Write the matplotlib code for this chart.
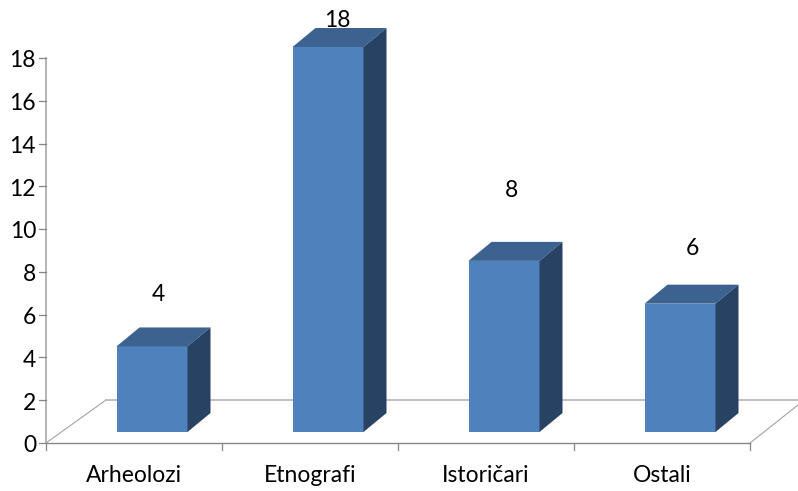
import matplotlib
matplotlib.use('Agg')
import matplotlib.pyplot as plt
from matplotlib.patches import Polygon

categories = ['Arheolozi', 'Etnografi', 'Istoričari', 'Ostali']
values = [4, 18, 8, 6]
y_ticks = [0, 2, 4, 6, 8, 10, 12, 14, 16, 18]

# where the value labels sit relative to the bar top, in pixels
label_dx = [6.5, 9.5, 7.5, 12.5]
label_dy = [53, 28, 72, 57]

W, H = 798, 491
# pixel positions of the axes
x0_px, cat_px = 46, 176
y0_px, unit_px = 443, 385 / 18

plt.rcParams['font.family'] = ['Lato', 'DejaVu Sans']

fig = plt.figure(figsize=(W / 100, H / 100), dpi=100)
ax = fig.add_axes([0, 0, 1, 1])
ax.set_xlim((0 - x0_px) / cat_px - 0.5, (W - x0_px) / cat_px - 0.5)
ax.set_ylim((y0_px - H) / unit_px, y0_px / unit_px)
ax.axis('off')

n = len(categories)
depth_x = 60 / cat_px
depth_y = 43 / unit_px
floor_col = '#a3a3a3'
axis_col = '#868686'

# floor and axes
ax.plot([-0.5, -0.5 + depth_x], [0, depth_y], color=floor_col, lw=0.8, zorder=1)
ax.plot([-0.5 + depth_x, n - 0.5 + depth_x], [depth_y, depth_y], color='#b5b5b5', lw=1.2, zorder=1)
ax.plot([n - 0.5, n - 0.5 + 48 / cat_px], [0, 38 / unit_px], color=floor_col, lw=0.8, zorder=1)
ax.plot([-0.5, n - 0.5], [0, 0], color=axis_col, lw=1.0, zorder=1)
ax.plot([-0.5, -0.5], [0, 18], color='#a8a8a8', lw=1.2, zorder=1)
for t in y_ticks:
    ax.plot([-0.5 - 7 / cat_px, -0.5], [t, t], color=axis_col, lw=0.9, zorder=1)
    ax.text(-0.5 - 10 / cat_px, t - 2.8 / unit_px, str(t), ha='right', va='center', fontsize=16.5, color='black')
for i in range(n + 1):
    ax.plot([i - 0.5, i - 0.5], [0, -7 / unit_px], color=axis_col, lw=0.9, zorder=1)

# 3d bars
bar_w = 71 / cat_px
bar_off = 18 / cat_px
base = 11 / unit_px
dx = 23 / cat_px
dy = 19 / unit_px
for i, v in enumerate(values):
    c = i + bar_off
    left, right = c - bar_w / 2, c + bar_w / 2
    top = base + v
    ax.bar(c, v, bar_w, bottom=base, color='#4f81bd', zorder=3)
    ax.add_patch(Polygon([(left, top), (right, top), (right + dx, top + dy), (left + dx, top + dy)],
                         facecolor='#3c6290', edgecolor='none', zorder=3))
    ax.add_patch(Polygon([(right, base), (right + dx, base + dy), (right + dx, top + dy), (right, top)],
                         facecolor='#284263', edgecolor='none', zorder=3))
    ax.text(c + label_dx[i] / cat_px, top + (label_dy[i] - 1.5) / unit_px, str(v), ha='center', va='center',
            fontsize=16.5, color='black', zorder=4)
    ax.text(i, -33 / unit_px, categories[i], ha='center', va='center', fontsize=16.5, color='black')

fig.savefig('out.png', dpi=100)
